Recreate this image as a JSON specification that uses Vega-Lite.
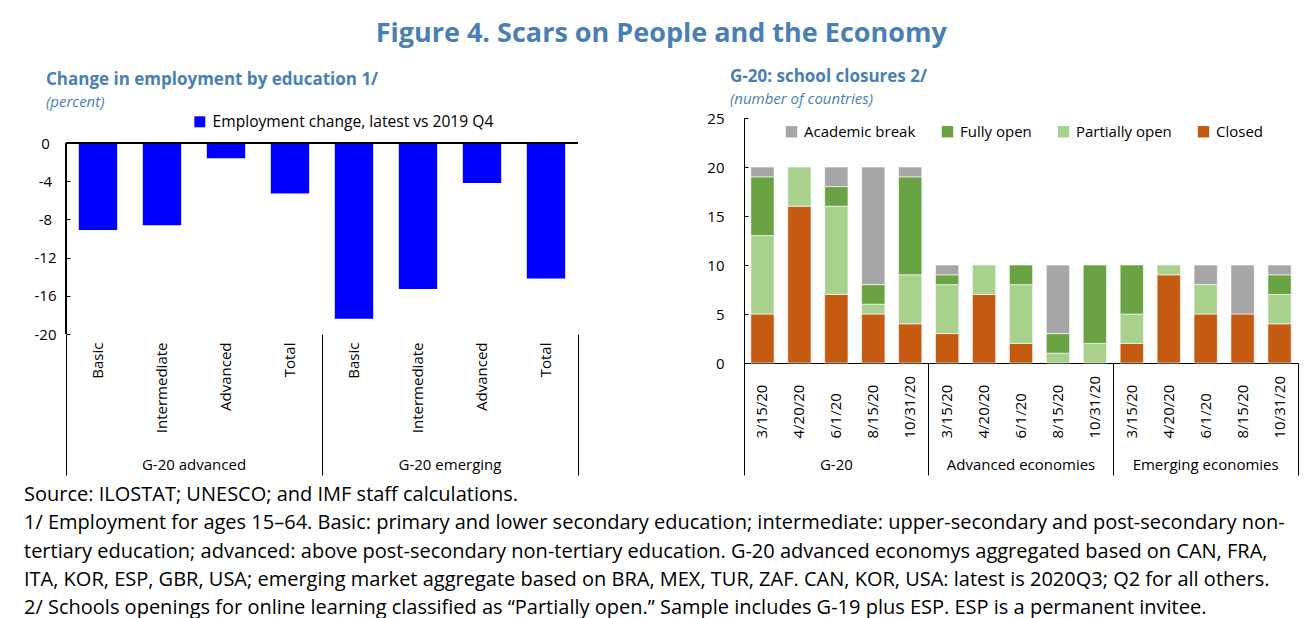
{
  "$schema": "https://vega.github.io/schema/vega-lite/v6.json",
  "background": "white",
  "padding": {"left": 24, "top": 20, "right": 10, "bottom": 0},
  "title": {"text": "Figure 4. Scars on People and the Economy", "fontSize": 27, "fontWeight": "bold", "color": "#4A7FB5", "anchor": "middle", "offset": 20},
  "config": {
    "font": "Open Sans",
    "view": {"stroke": null},
    "axis": {"labelColor": "black", "domainColor": "black", "tickColor": "black", "labelFontSize": 15, "grid": false, "title": null, "labelOverlap": false}
  },
  "vconcat": [
    {
      "concat": [
        {
          "width": 512,
          "height": 216,
          "title": {"text": "Change in employment by education 1/", "subtitle": "(percent)", "anchor": "start", "frame": "group", "dx": -20, "fontSize": 17, "fontWeight": "bold", "color": "#4A7FB5", "subtitleColor": "#4A7FB5", "subtitleFontStyle": "italic", "subtitleFontSize": 15, "subtitlePadding": 6, "offset": 3},
          "data": {"values": [
            {"key": "G-20 advanced|Basic", "group": "G-20 advanced", "value": -9.1},
            {"key": "G-20 advanced|Intermediate", "group": "G-20 advanced", "value": -8.6},
            {"key": "G-20 advanced|Advanced", "group": "G-20 advanced", "value": -1.6},
            {"key": "G-20 advanced|Total", "group": "G-20 advanced", "value": -5.3},
            {"key": "G-20 emerging|Basic", "group": "G-20 emerging", "value": -18.4},
            {"key": "G-20 emerging|Intermediate", "group": "G-20 emerging", "value": -15.3},
            {"key": "G-20 emerging|Advanced", "group": "G-20 emerging", "value": -4.2},
            {"key": "G-20 emerging|Total", "group": "G-20 emerging", "value": -14.2}
          ]},
          "layer": [
            {
              "mark": {"type": "bar", "width": {"band": 0.6}},
              "encoding": {
                "x": {"field": "key", "type": "nominal", "sort": null, "scale": {"type": "band", "paddingInner": 0, "paddingOuter": 0},
                      "axis": {"orient": "bottom", "labelExpr": "split(datum.label, '|')[1]", "labelAngle": -90, "labelAlign": "right", "labelBaseline": "middle", "ticks": false, "domain": false, "labelPadding": 8}},
                "y": {"field": "value", "type": "quantitative", "scale": {"domain": [-20, 2.618], "nice": false, "zero": false},
                      "axis": {"values": [-20, -16, -12, -8, -4, 0], "tickCount": 12, "labelExpr": "replace(datum.label, '−', '-')", "labelOverlap": false, "domain": false, "tickSize": -4, "labelAlign": "center", "labelPadding": 25}},
                "color": {"datum": "Employment change, latest vs 2019 Q4", "scale": {"range": ["#0000FF"]},
                          "legend": {"title": null, "orient": "none", "legendX": 126, "legendY": -4, "symbolType": "square", "symbolSize": 120, "symbolOpacity": 1, "labelFontSize": 15.6, "labelColor": "black", "labelOffset": 5, "labelLimit": 500}}
              }
            },
            {"mark": {"type": "rule", "color": "black", "strokeWidth": 1}, "encoding": {"y": {"datum": 0}}},
            {
              "mark": {"type": "rule", "color": "black", "strokeWidth": 1},
              "encoding": {
                "x": {"datum": "G-20 advanced|Basic", "type": "nominal", "bandPosition": 0, "scale": {"type": "band", "paddingInner": 0, "paddingOuter": 0}, "axis": null},
                "y": {"datum": -20, "type": "quantitative"},
                "y2": {"datum": 0}
              }
            },
            {
              "mark": {"type": "point", "opacity": 0},
              "encoding": {
                "x": {"field": "group", "type": "nominal", "sort": null, "scale": {"type": "band", "paddingInner": 0, "paddingOuter": 0},
                      "axis": {"orient": "bottom", "bandPosition": 1, "tickExtra": true, "tickSize": 141, "domain": false, "labelAngle": 0, "labelAlign": "center", "labelBaseline": "top", "labelPadding": -18}}
              }
            }
          ],
          "resolve": {"scale": {"x": "independent"}, "axis": {"x": "independent"}}
        },
        {
          "width": 554,
          "height": 245,
          "title": {"text": "G-20: school closures 2/", "subtitle": "(number  of countries)", "anchor": "start", "frame": "group", "dx": -14, "fontSize": 17, "fontWeight": "bold", "color": "#4A7FB5", "subtitleColor": "#4A7FB5", "subtitleFontStyle": "italic", "subtitleFontSize": 15, "subtitlePadding": 6, "offset": 3},
          "data": {"values": [
            {"key": "G-20|3/15/20", "group": "G-20", "status": "Closed", "count": 5},
            {"key": "G-20|3/15/20", "group": "G-20", "status": "Partially open", "count": 8},
            {"key": "G-20|3/15/20", "group": "G-20", "status": "Fully open", "count": 6},
            {"key": "G-20|3/15/20", "group": "G-20", "status": "Academic break", "count": 1},
            {"key": "G-20|4/20/20", "group": "G-20", "status": "Closed", "count": 16},
            {"key": "G-20|4/20/20", "group": "G-20", "status": "Partially open", "count": 4},
            {"key": "G-20|6/1/20", "group": "G-20", "status": "Closed", "count": 7},
            {"key": "G-20|6/1/20", "group": "G-20", "status": "Partially open", "count": 9},
            {"key": "G-20|6/1/20", "group": "G-20", "status": "Fully open", "count": 2},
            {"key": "G-20|6/1/20", "group": "G-20", "status": "Academic break", "count": 2},
            {"key": "G-20|8/15/20", "group": "G-20", "status": "Closed", "count": 5},
            {"key": "G-20|8/15/20", "group": "G-20", "status": "Partially open", "count": 1},
            {"key": "G-20|8/15/20", "group": "G-20", "status": "Fully open", "count": 2},
            {"key": "G-20|8/15/20", "group": "G-20", "status": "Academic break", "count": 12},
            {"key": "G-20|10/31/20", "group": "G-20", "status": "Closed", "count": 4},
            {"key": "G-20|10/31/20", "group": "G-20", "status": "Partially open", "count": 5},
            {"key": "G-20|10/31/20", "group": "G-20", "status": "Fully open", "count": 10},
            {"key": "G-20|10/31/20", "group": "G-20", "status": "Academic break", "count": 1},
            {"key": "Advanced economies|3/15/20", "group": "Advanced economies", "status": "Closed", "count": 3},
            {"key": "Advanced economies|3/15/20", "group": "Advanced economies", "status": "Partially open", "count": 5},
            {"key": "Advanced economies|3/15/20", "group": "Advanced economies", "status": "Fully open", "count": 1},
            {"key": "Advanced economies|3/15/20", "group": "Advanced economies", "status": "Academic break", "count": 1},
            {"key": "Advanced economies|4/20/20", "group": "Advanced economies", "status": "Closed", "count": 7},
            {"key": "Advanced economies|4/20/20", "group": "Advanced economies", "status": "Partially open", "count": 3},
            {"key": "Advanced economies|6/1/20", "group": "Advanced economies", "status": "Closed", "count": 2},
            {"key": "Advanced economies|6/1/20", "group": "Advanced economies", "status": "Partially open", "count": 6},
            {"key": "Advanced economies|6/1/20", "group": "Advanced economies", "status": "Fully open", "count": 2},
            {"key": "Advanced economies|8/15/20", "group": "Advanced economies", "status": "Partially open", "count": 1},
            {"key": "Advanced economies|8/15/20", "group": "Advanced economies", "status": "Fully open", "count": 2},
            {"key": "Advanced economies|8/15/20", "group": "Advanced economies", "status": "Academic break", "count": 7},
            {"key": "Advanced economies|10/31/20", "group": "Advanced economies", "status": "Partially open", "count": 2},
            {"key": "Advanced economies|10/31/20", "group": "Advanced economies", "status": "Fully open", "count": 8},
            {"key": "Emerging economies|3/15/20", "group": "Emerging economies", "status": "Closed", "count": 2},
            {"key": "Emerging economies|3/15/20", "group": "Emerging economies", "status": "Partially open", "count": 3},
            {"key": "Emerging economies|3/15/20", "group": "Emerging economies", "status": "Fully open", "count": 5},
            {"key": "Emerging economies|4/20/20", "group": "Emerging economies", "status": "Closed", "count": 9},
            {"key": "Emerging economies|4/20/20", "group": "Emerging economies", "status": "Partially open", "count": 1},
            {"key": "Emerging economies|6/1/20", "group": "Emerging economies", "status": "Closed", "count": 5},
            {"key": "Emerging economies|6/1/20", "group": "Emerging economies", "status": "Partially open", "count": 3},
            {"key": "Emerging economies|6/1/20", "group": "Emerging economies", "status": "Academic break", "count": 2},
            {"key": "Emerging economies|8/15/20", "group": "Emerging economies", "status": "Closed", "count": 5},
            {"key": "Emerging economies|8/15/20", "group": "Emerging economies", "status": "Academic break", "count": 5},
            {"key": "Emerging economies|10/31/20", "group": "Emerging economies", "status": "Closed", "count": 4},
            {"key": "Emerging economies|10/31/20", "group": "Emerging economies", "status": "Partially open", "count": 3},
            {"key": "Emerging economies|10/31/20", "group": "Emerging economies", "status": "Fully open", "count": 2},
            {"key": "Emerging economies|10/31/20", "group": "Emerging economies", "status": "Academic break", "count": 1}
          ]},
          "transform": [
            {"calculate": "indexof(['Closed', 'Partially open', 'Fully open', 'Academic break'], datum.status)", "as": "stackOrder"}
          ],
          "layer": [
            {
              "mark": {"type": "bar", "width": {"band": 0.63}, "stroke": "white", "strokeWidth": 0.6},
              "encoding": {
                "x": {"field": "key", "type": "nominal", "sort": null, "scale": {"type": "band", "paddingInner": 0, "paddingOuter": 0},
                      "axis": {"orient": "bottom", "labelExpr": "split(datum.label, '|')[1]", "labelAngle": -90, "labelAlign": "left", "labelBaseline": "middle", "ticks": false, "domain": true, "labelPadding": 75}},
                "y": {"field": "count", "type": "quantitative", "stack": "zero", "scale": {"domain": [0, 25], "nice": false},
                      "axis": {"values": [0, 5, 10, 15, 20, 25], "tickCount": 12, "tickSize": -4, "labelPadding": 24}},
                "order": {"field": "stackOrder", "type": "quantitative", "sort": "ascending"},
                "color": {"field": "status", "type": "nominal",
                          "scale": {"domain": ["Academic break", "Fully open", "Partially open", "Closed"], "range": ["#A6A6A6", "#6AA343", "#A9D18E", "#C55A11"]},
                          "legend": {"title": null, "orient": "none", "direction": "horizontal", "legendX": 40, "legendY": 6, "symbolType": "square", "symbolSize": 130, "symbolOpacity": 1, "symbolStrokeWidth": 0, "labelFontSize": 15, "labelColor": "black", "labelOffset": 5, "columnPadding": 24}}
              }
            },
            {
              "mark": {"type": "point", "opacity": 0},
              "encoding": {
                "x": {"field": "group", "type": "nominal", "sort": null, "scale": {"type": "band", "paddingInner": 0, "paddingOuter": 0},
                      "axis": {"orient": "bottom", "bandPosition": 1, "tickExtra": true, "tickSize": 112, "domain": false, "labelAngle": 0, "labelAlign": "center", "labelBaseline": "top", "labelPadding": -18}}
              }
            }
          ],
          "resolve": {"scale": {"x": "independent"}, "axis": {"x": "independent"}}
        }
      ],
      "columns": 2,
      "align": "none",
      "spacing": 127,
      "resolve": {"scale": {"color": "independent", "y": "independent", "x": "independent"}, "legend": {"color": "independent"}}
    },
    {
      "width": 1230,
      "height": 141,
      "data": {"values": [
        {"line": 1, "text": "Source: ILOSTAT; UNESCO; and IMF staff calculations."},
        {"line": 2, "text": "1/ Employment for ages 15–64. Basic: primary and lower secondary education; intermediate: upper-secondary and post-secondary non-"},
        {"line": 3, "text": "tertiary education; advanced: above post-secondary non-tertiary education. G-20 advanced economys aggregated based on CAN, FRA,"},
        {"line": 4, "text": "ITA, KOR, ESP, GBR, USA; emerging market aggregate based on BRA, MEX, TUR, ZAF. CAN, KOR, USA: latest is 2020Q3; Q2 for all others."},
        {"line": 5, "text": "2/ Schools openings for online learning classified as “Partially open.” Sample includes G-19 plus ESP. ESP is a permanent invitee."}
      ]},
      "mark": {"type": "text", "align": "left", "baseline": "middle", "fontSize": 20, "color": "black", "dx": -42},
      "encoding": {
        "x": {"datum": 0, "type": "quantitative", "scale": {"domain": [0, 1]}, "axis": null},
        "y": {"field": "line", "type": "ordinal", "scale": {"paddingInner": 0, "paddingOuter": 0}, "axis": null},
        "text": {"field": "text"}
      }
    }
  ],
  "spacing": 5
}
